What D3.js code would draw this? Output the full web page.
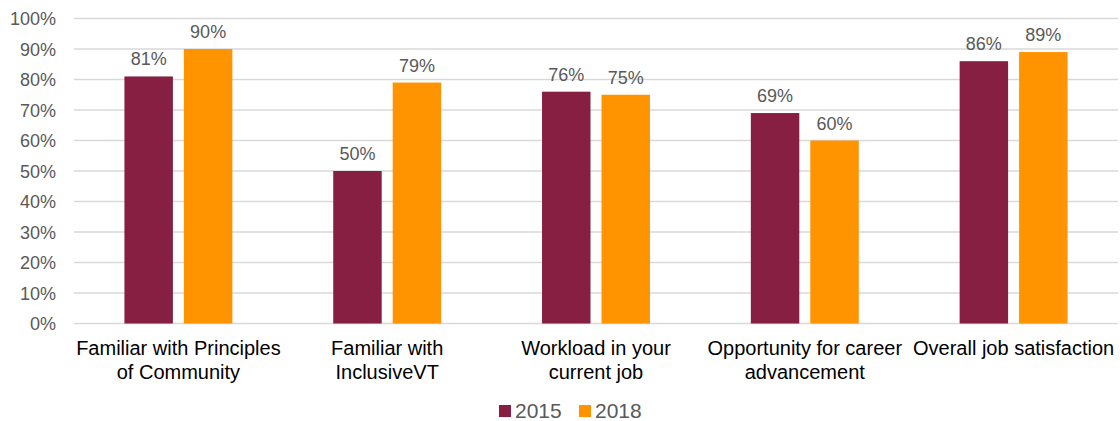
<!DOCTYPE html>
<html>
<head>
<meta charset="utf-8">
<script src="https://cdn.jsdelivr.net/npm/d3@7"></script>
<style>
  body { margin: 0; background: #fff; }
  text { font-family: "Liberation Sans", Arial, sans-serif; }
</style>
</head>
<body>
<svg id="chart" width="1120" height="421"></svg>
<script>
// data
const categories = [
  ["Familiar with Principles", "of Community"],
  ["Familiar with", "InclusiveVT"],
  ["Workload in your", "current job"],
  ["Opportunity for career", "advancement"],
  ["Overall job satisfaction"]
];
const seriesNames = ["2015", "2018"];
const values2015 = [81, 50, 76, 69, 86];
const values2018 = [90, 79, 75, 60, 89];
const yTicks = [0, 10, 20, 30, 40, 50, 60, 70, 80, 90, 100];
const colors = ["#861F41", "#FF9300"];

const svg = d3.select("#chart");
const plotLeft = 74, plotRight = 1118, plotTop = 18.5, plotBottom = 323.5;

const x0 = d3.scaleBand()
  .domain(d3.range(categories.length))
  .range([plotLeft, plotRight])
  .padding(0);

const x1 = d3.scaleBand()
  .domain(seriesNames)
  .range([0, x0.bandwidth()])
  .paddingInner(0.185)
  .paddingOuter(0.848);

const y = d3.scaleLinear()
  .domain([0, 100])
  .range([plotBottom, plotTop]);

// gridlines
svg.append("g")
  .selectAll("line")
  .data(yTicks)
  .enter()
  .append("line")
    .attr("x1", plotLeft)
    .attr("x2", plotRight)
    .attr("y1", d => y(d))
    .attr("y2", d => y(d))
    .attr("stroke", "#d9d9d9")
    .attr("stroke-width", 1.5);

// y axis labels
svg.append("g")
  .selectAll("text")
  .data(yTicks)
  .enter()
  .append("text")
    .attr("x", 56)
    .attr("y", d => y(d) + 6.5)
    .attr("text-anchor", "end")
    .attr("font-size", 18)
    .attr("fill", "#595959")
    .text(d => d + "%");

const rows = [];
categories.forEach((c, i) => {
  rows.push({ cat: i, s: "2015", v: values2015[i] });
  rows.push({ cat: i, s: "2018", v: values2018[i] });
});

svg.append("g")
  .selectAll("rect")
  .data(rows)
  .enter()
  .append("rect")
    .attr("x", d => x0(d.cat) + x1(d.s))
    .attr("y", d => y(d.v))
    .attr("width", x1.bandwidth())
    .attr("height", d => y(0) - y(d.v))
    .attr("fill", d => colors[seriesNames.indexOf(d.s)]);

// value labels
svg.append("g")
  .selectAll("text")
  .data(rows)
  .enter()
  .append("text")
    .attr("x", d => x0(d.cat) + x1(d.s) + x1.bandwidth() / 2)
    .attr("y", d => y(d.v) - 11)
    .attr("text-anchor", "middle")
    .attr("font-size", 18)
    .attr("fill", "#595959")
    .text(d => d.v + "%");

// category labels
const catG = svg.append("g")
  .selectAll("text")
  .data(categories)
  .enter()
  .append("text")
    .attr("x", (d, i) => x0(i) + x0.bandwidth() / 2)
    .attr("y", 354.5)
    .attr("text-anchor", "middle")
    .attr("font-size", 20)
    .attr("fill", "#000");

catG.selectAll("tspan")
  .data(d => d)
  .enter()
  .append("tspan")
    .attr("x", function() { return d3.select(this.parentNode).attr("x"); })
    .attr("dy", (d, i) => i ? 24 : 0)
    .text(d => d);

// legend
const legend = svg.append("g")
  .selectAll("g")
  .data(seriesNames)
  .enter()
  .append("g")
    .attr("transform", (d, i) => `translate(${499 + i * 80},405)`);

legend.append("rect")
  .attr("width", 12)
  .attr("height", 12)
  .attr("fill", (d, i) => colors[i]);

legend.append("text")
  .attr("x", 16)
  .attr("y", 13)
  .attr("font-size", 21)
  .attr("fill", "#595959")
  .text(d => d);
</script>
</body>
</html>
